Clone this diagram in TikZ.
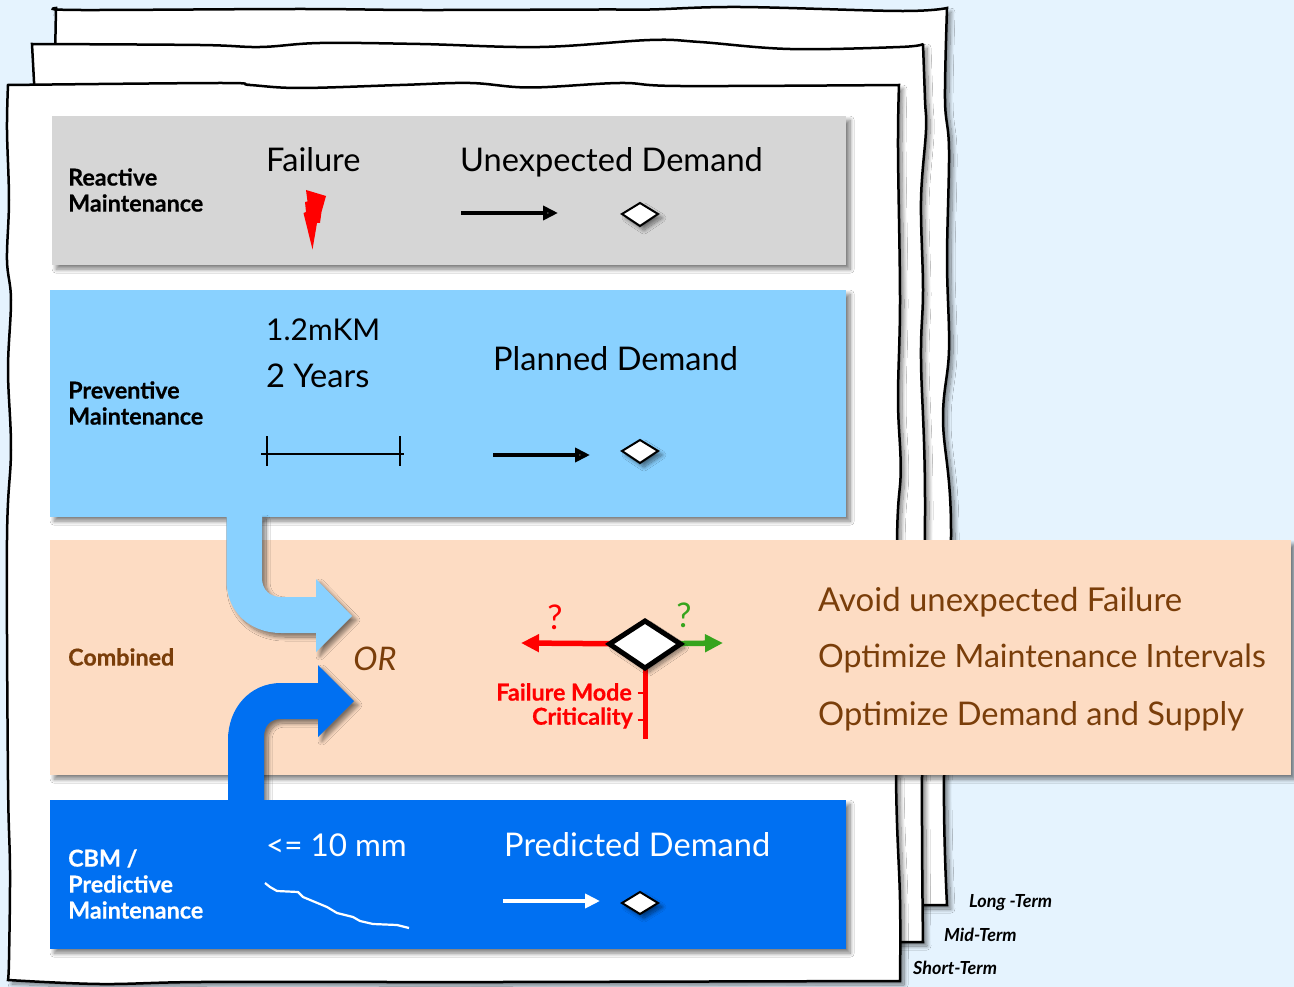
\documentclass[tikz,border=0pt]{standalone}
\usepackage{fontspec}
\setmainfont{Lato}[BoldFeatures={FakeBold=0.5}]
\usepackage{tikz}
\usetikzlibrary{arrows.meta,shadows.blur}
\definecolor{skyback}{HTML}{E5F3FE}
\definecolor{greyband}{HTML}{D6D6D6}
\definecolor{lightband}{HTML}{89D1FF}
\definecolor{peachband}{HTML}{FDDCC3}
\definecolor{blueband}{HTML}{0070F2}
\definecolor{browntext}{HTML}{7A3E0A}
\definecolor{greenarrow}{HTML}{36A41D}
\tikzset{
  softshadow/.style={blur shadow={shadow xshift=4pt,shadow yshift=-4pt,shadow blur steps=12,shadow blur radius=4pt,shadow opacity=50}},
  sheet/.style={draw=black,line width=2.5pt,fill=white,line join=miter,miter limit=2,softshadow},
  band/.style={anchor=north west,inner sep=0pt,softshadow},
  rowname/.style={anchor=west,inner sep=0pt,font=\fontsize{23.3}{26}\selectfont\bfseries,align=left},
  big/.style={anchor=base west,inner sep=0pt,font=\fontsize{32.6}{38}\selectfont},
  horizon/.style={anchor=base west,inner sep=0pt,font=\fontsize{18}{19}\selectfont\bfseries\itshape},
  demand/.style={line width=4.5pt,-{Triangle[length=15pt,width=14pt]}},
  gem/.style={draw=black,fill=white,line width=2pt,line join=miter,softshadow},
  bentarrow/.style={softshadow},
  wavy/.style={smooth,tension=.6}
}
\begin{document}
\begin{tikzpicture}[x=1pt,y=-1pt]
\useasboundingbox[fill=skyback] (0,0) rectangle (1294,987);
% the three sheets
\path[sheet] plot[wavy] coordinates {(56,8) (80,10) (300,9) (420,10) (600,9.5) (650,9.5) (740,7) (900,11) (947,8)}
  -- plot[wavy] coordinates {(947,8) (945,100) (949,150) (947,260) (949,350) (943,420) (951,530) (944,775) (947,905)}
  -- (926,905) -- (300,905) -- (55,60) -- cycle;
\path[sheet] plot[wavy] coordinates {(32,44) (200,45) (260,47) (320,43) (420,44) (540,47) (650,40) (700,42) (790,49) (900,47) (923,44)}
  -- plot[wavy] coordinates {(923,44) (925,100) (926,130) (921,200) (923,290) (921,360) (925,500) (922,775) (923,942)}
  -- (902,942) -- (300,942) -- (35,100) -- cycle;
\path[sheet] plot[wavy] coordinates {(8,85) (220,83) (250,85) (300,88) (400,85) (470,83) (530,87.5) (620,83) (680,86) (899,85)}
  -- plot[wavy] coordinates {(899,85) (898,150) (900,300) (898,400) (900.7,470) (897,540) (896,775) (900,900) (900,981)}
  -- plot[wavy] coordinates {(900,981) (500,982) (400,982) (200,982) (100,984) (8,980)}
  -- plot[wavy] coordinates {(8,980) (9,960) (10,870) (8,780) (7,540) (11,450) (8,370) (11,300) (7,260) (9,200) (7,130) (8,85)}
  -- cycle;
% bands
\node[band,fill=greyband,minimum width=794pt,minimum height=149pt] (reactive) at (52,116) {};
\node[band,fill=lightband,minimum width=796pt,minimum height=227pt] (preventive) at (50,290) {};
\node[band,fill=peachband,minimum width=1241pt,minimum height=235pt] (combined) at (50,540) {};
% bent arrows
\path[bentarrow,fill=lightband] (226.5,515) -- (226.5,580) .. controls (226.5,612) and (250,633) .. (281,633)
  -- (316,633) -- (316,652) -- (352,616) -- (316,579) -- (316,597) -- (281,597)
  .. controls (270,597) and (262,590) .. (262,578) -- (262,515) -- cycle;
\path[bentarrow,fill=blueband] (228,800) -- (228,740) .. controls (228,708) and (250,683) .. (281,683)
  -- (318,683) -- (318,665) -- (354,701) -- (318,737) -- (318,719) -- (281,719)
  .. controls (270,719) and (264,726) .. (264,737) -- (264,800) -- cycle;
\node[band,fill=blueband,minimum width=796pt,minimum height=149pt] (predictive) at (50,800) {};
% row names
\node[rowname] (reactivename) at (68,190) {Reactive\\Maintenance};
\node[rowname] (preventivename) at (68,403) {Preventive\\Maintenance};
\node[rowname,text=browntext] (combinedname) at (68,657) {Combined};
\node[rowname,text=white] (predictivename) at (68,884) {CBM /\\Predictive\\Maintenance};
% reactive
\node[big] (failure) at (266,172) {Failure};
\node[big] (unexpected) at (460,172) {Unexpected Demand};
\fill[red] (306,190) -- (326,196) -- (321.5,212) -- (320,223) -- (317,223) -- (312.5,249.5) -- (303.5,213)
  -- (306,212) -- (305,202) -- (307.5,201.5) -- cycle;
\coordinate (a1) at (461,213);
\coordinate (b1) at (558,213);
\draw[demand] (a1) -- (b1);
% preventive
\node[big,font=\fontsize{30}{38}\selectfont] (distance) at (266,341) {1.2mKM};
\node[big] (years) at (266,387) {2 Years};
\node[big] (planned) at (493,370) {Planned Demand};
\coordinate (s1) at (261,454);
\coordinate (s2) at (404,454);
\draw[line width=2.2pt] (s1) -- (s2);
\draw[line width=2.2pt] (267,436) -- (267,466);
\draw[line width=2.2pt] (400,436) -- (400,466);
\coordinate (a2) at (493,455);
\coordinate (b2) at (590,455);
\draw[demand] (a2) -- (b2);
% combined
\node[anchor=center,inner sep=0pt,text=browntext,font=\fontsize{32.5}{38}\selectfont\itshape] (orword) at (375,659) {OR};
\coordinate (r1) at (521,643);
\coordinate (g1) at (723,643);
\coordinate (v1) at (645,739);
\coordinate (c1) at (645,644);
\draw[red,line width=5.5pt,-{Triangle[length=18pt,width=17pt]}] (c1) -- (r1);
\draw[greenarrow,line width=5.5pt,-{Triangle[length=18pt,width=17pt]}] (c1) -- (g1);
\draw[red,line width=5pt] (c1) -- (v1);
\draw[red,line width=2pt] (637.5,693) -- (645,693);
\draw[red,line width=2pt] (637.5,720) -- (645,720);
\path[draw=black,fill=white,line width=5pt,line join=miter,softshadow] (609.5,644) -- (645,621) -- (680.5,644) -- (645,668) -- cycle;
\node[anchor=center,inner sep=0pt,text=red,font=\fontsize{34}{38}\selectfont] (qred) at (555,617) {?};
\node[anchor=center,inner sep=0pt,text=greenarrow,font=\fontsize{34}{38}\selectfont] (qgreen) at (684,615) {?};
\node[anchor=east,inner sep=0pt,text=red,font=\fontsize{23.3}{26}\selectfont\bfseries] (mode) at (632,692) {Failure Mode};
\node[anchor=east,inner sep=0pt,text=red,font=\fontsize{23.3}{26}\selectfont\bfseries] (criticality) at (633,718) {Criticality};
\node[big,text=browntext,font=\fontsize{32.9}{38}\selectfont] (aim1) at (818,611) {Avoid unexpected Failure};
\node[big,text=browntext,font=\fontsize{32.1}{38}\selectfont] (aim2) at (818,667) {Optimize Maintenance Intervals};
\node[big,text=browntext] (aim3) at (818,725) {Optimize Demand and Supply};
% predictive
\node[big,text=white,font=\fontsize{31.4}{38}\selectfont] (limit) at (266,856) {<= 10 mm};
\node[big,text=white] (predicted) at (504,856) {Predicted Demand};
\draw[white,line width=2.2pt,line join=round] (265,883) -- (270,887) -- (277,891) -- (298,892) -- (303,897) -- (327,907)
  -- (337,913) -- (353,917) -- (360,921) -- (373,924) -- (397,925) -- (409,928);
\coordinate (a3) at (503,901);
\coordinate (b3) at (600,901);
\draw[demand,white] (a3) -- (b3);
% horizons
\node[horizon] (longterm) at (969,907) {Long -Term};
\node[horizon] (midterm) at (944,941) {Mid-Term};
\node[horizon] (shortterm) at (913,974) {Short-Term};
% little diamonds
\path[gem] (622,214) -- (640,203) -- (658,214) -- (640,226) -- cycle;
\path[gem] (622,451) -- (640,440) -- (658,451) -- (640,463) -- cycle;
\path[gem] (622,903) -- (640,892) -- (658,903) -- (640,914) -- cycle;
\end{tikzpicture}
\end{document}
